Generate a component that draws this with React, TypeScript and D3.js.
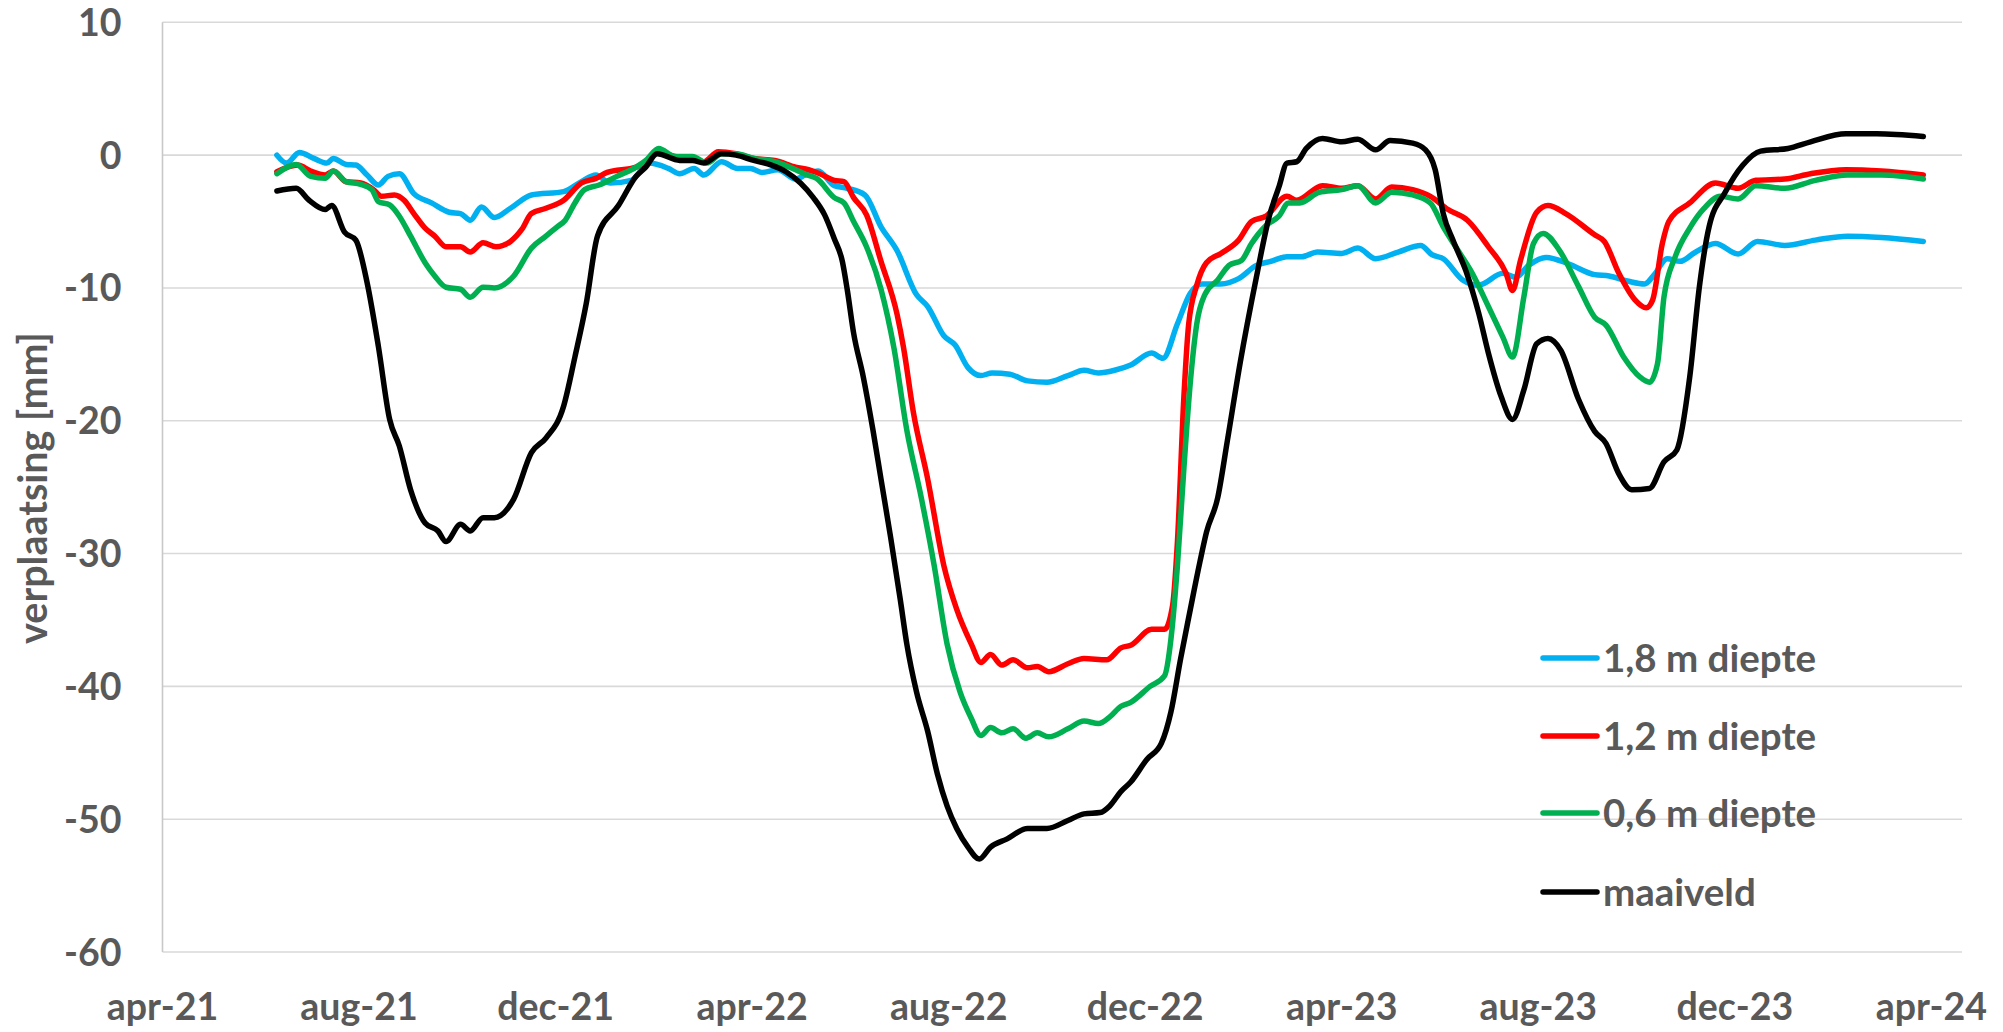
import React from "react";
import * as d3 from "d3";

// x values: days since 1 April 2021
const START_DATE = "2021-04-01";
const AXIS_MAX_DAY = 1117;
const tickDays = [0, 122, 244, 366, 488, 610, 732, 854, 976, 1098];
const tickLabels = ["apr-21", "aug-21", "dec-21", "apr-22", "aug-22", "dec-22", "apr-23", "aug-23", "dec-23", "apr-24"];
const yTicks = [10, 0, -10, -20, -30, -40, -50, -60];

const seriesNames = ["1,8 m diepte", "1,2 m diepte", "0,6 m diepte", "maaiveld"];
const seriesColors = ["#00B0F0", "#FF0000", "#00B050", "#000000"];

const depth18: [number, number][] = [
  [71, 0.0], [77, -0.6], [85, 0.2], [94, -0.25], [102, -0.6], [106, -0.25], [114, -0.7], [120, -0.75],
  [127, -1.5], [134, -2.25], [140, -1.6], [147, -1.4], [156, -2.9], [167, -3.6], [178, -4.3], [185, -4.4],
  [191, -4.9], [198, -3.9], [206, -4.7], [216, -4.0], [229, -3.0], [249, -2.75], [260, -2.0], [269, -1.5],
  [278, -2.1], [291, -1.9], [302, -0.6], [314, -1.0], [321, -1.4], [330, -1.0], [336, -1.5], [347, -0.5],
  [357, -1.0], [365, -1.0], [372, -1.3], [382, -1.1], [393, -1.8], [399, -1.5], [407, -1.2], [417, -2.3],
  [425, -2.5], [436, -3.0], [446, -5.4], [456, -7.2], [468, -10.5], [475, -11.4], [485, -13.6], [492, -14.3],
  [500, -16.0], [508, -16.6], [515, -16.4], [526, -16.5], [537, -17.0], [549, -17.1], [562, -16.6], [572, -16.2],
  [581, -16.4], [591, -16.2], [601, -15.8], [614, -14.9], [621, -15.3], [630, -12.7], [638, -10.4], [645, -9.7],
  [657, -9.7], [668, -9.3], [679, -8.3], [688, -8.0], [698, -7.65], [707, -7.65], [717, -7.3], [732, -7.4],
  [742, -7.0], [753, -7.8], [767, -7.3], [781, -6.8], [788, -7.5], [795, -7.8], [807, -9.4], [817, -9.8],
  [832, -8.9], [840, -9.2], [848, -8.3], [859, -7.7], [873, -8.2], [889, -9.0], [898, -9.1], [910, -9.5],
  [920, -9.7], [926, -9.0], [934, -7.8], [942, -8.0], [951, -7.35], [964, -6.65], [978, -7.45], [990, -6.5],
  [1007, -6.8], [1026, -6.4], [1046, -6.1], [1067, -6.2], [1093, -6.5],
];

const depth12: [number, number][] = [
  [71, -1.25], [84, -0.75], [92, -1.2], [101, -1.5], [106, -1.2], [114, -2.0], [123, -2.1], [131, -2.6],
  [136, -3.1], [144, -3.0], [150, -3.4], [156, -4.4], [163, -5.5], [169, -6.1], [176, -6.9], [185, -6.9],
  [191, -7.3], [199, -6.6], [207, -6.9], [216, -6.5], [223, -5.6], [229, -4.4], [238, -4.0], [249, -3.4],
  [260, -2.1], [269, -1.75], [276, -1.3], [294, -0.9], [300, -0.5], [307, 0.25], [318, -0.1], [329, -0.25],
  [336, -0.5], [345, 0.25], [356, 0.1], [367, -0.25], [380, -0.4], [393, -0.9], [401, -1.1], [408, -1.4],
  [417, -1.9], [423, -2.0], [429, -3.2], [437, -4.5], [446, -8.0], [456, -12.0], [460, -14.5], [466, -19.3],
  [475, -24.4], [485, -30.9], [493, -34.2], [502, -36.8], [508, -38.2], [514, -37.6], [521, -38.4], [528, -38.0],
  [537, -38.6], [543, -38.5], [550, -38.9], [562, -38.3], [572, -37.9], [586, -38.0], [595, -37.1], [601, -36.9],
  [614, -35.7], [622, -35.7], [627, -33.9], [630, -29.1], [634, -18.2], [637, -12.7], [642, -9.8], [648, -8.1],
  [657, -7.4], [668, -6.4], [676, -5.0], [685, -4.6], [698, -3.1], [704, -3.4], [720, -2.3], [732, -2.5],
  [742, -2.3], [753, -3.3], [763, -2.4], [776, -2.6], [787, -3.1], [798, -4.1], [810, -4.9], [823, -6.9],
  [834, -8.9], [838, -10.2], [843, -7.9], [853, -4.3], [860, -3.8], [871, -4.4], [889, -6.0], [895, -6.5],
  [904, -8.9], [914, -10.9], [921, -11.5], [925, -10.9], [931, -6.65], [935, -5.0], [948, -3.6], [964, -2.1],
  [978, -2.5], [989, -1.9], [1007, -1.8], [1023, -1.4], [1045, -1.1], [1067, -1.2], [1093, -1.5],
];

const depth06: [number, number][] = [
  [71, -1.4], [83, -0.7], [92, -1.6], [101, -1.75], [106, -1.2], [114, -2.0], [123, -2.2], [130, -2.6],
  [134, -3.5], [141, -3.75], [147, -4.6], [154, -6.1], [163, -8.1], [169, -9.1], [176, -9.95], [185, -10.1],
  [191, -10.7], [199, -9.95], [206, -10.0], [218, -9.1], [229, -7.0], [238, -6.1], [245, -5.4], [250, -4.9],
  [256, -3.6], [262, -2.6], [271, -2.25], [282, -1.6], [294, -0.9], [300, -0.4], [308, 0.5], [318, -0.1],
  [329, -0.1], [338, -0.6], [347, 0.1], [356, 0.1], [367, -0.25], [380, -0.5], [393, -1.1], [400, -1.5],
  [406, -1.75], [417, -3.2], [423, -3.6], [429, -5.0], [437, -6.9], [446, -10.1], [454, -14.5], [462, -20.7],
  [471, -25.8], [479, -30.9], [487, -36.8], [495, -40.4], [502, -42.4], [508, -43.7], [514, -43.1], [521, -43.5],
  [528, -43.2], [536, -43.9], [543, -43.5], [550, -43.8], [562, -43.2], [572, -42.6], [581, -42.8], [588, -42.3],
  [595, -41.5], [601, -41.2], [613, -40.0], [622, -39.2], [626, -36.4], [630, -30.9], [634, -23.6], [638, -17.1],
  [642, -12.7], [647, -10.5], [655, -9.4], [662, -8.3], [670, -7.9], [676, -6.65], [685, -5.3], [693, -4.6],
  [699, -3.6], [706, -3.6], [718, -2.8], [732, -2.6], [742, -2.3], [753, -3.6], [763, -2.8], [776, -3.0],
  [787, -3.6], [795, -5.4], [804, -7.15], [813, -8.9], [823, -11.4], [832, -13.7], [838, -15.2], [845, -10.7],
  [851, -6.65], [857, -5.9], [867, -7.15], [879, -9.9], [889, -12.2], [896, -12.8], [907, -15.2], [917, -16.7],
  [923, -17.1], [928, -15.7], [932, -10.7], [939, -7.65], [948, -5.5], [957, -4.0], [967, -3.1], [978, -3.3],
  [989, -2.3], [1007, -2.5], [1026, -1.9], [1046, -1.5], [1067, -1.5], [1093, -1.8],
];

const maaiveld: [number, number][] = [
  [71, -2.7], [83, -2.5], [91, -3.4], [101, -4.1], [105, -3.8], [113, -5.8], [120, -6.4], [127, -9.6],
  [134, -14.4], [141, -19.9], [147, -21.9], [154, -25.2], [163, -27.7], [171, -28.3], [176, -29.1], [185, -27.8],
  [191, -28.3], [199, -27.3], [206, -27.3], [218, -25.9], [229, -22.4], [238, -21.3], [249, -18.9], [256, -15.2],
  [263, -11.2], [270, -6.1], [283, -3.8], [294, -1.6], [300, -0.9], [307, 0.1], [321, -0.4], [329, -0.4],
  [336, -0.6], [347, 0.1], [356, 0.0], [367, -0.4], [378, -0.75], [387, -1.25], [396, -2.1], [404, -3.2],
  [411, -4.5], [417, -6.3], [422, -8.0], [425, -10.1], [429, -13.4], [435, -16.7], [441, -20.7], [446, -24.4],
  [452, -28.8], [458, -33.5], [462, -36.8], [468, -40.4], [475, -43.4], [481, -46.6], [487, -49.0], [493, -50.7],
  [500, -52.1], [507, -53.0], [514, -52.1], [524, -51.5], [537, -50.7], [549, -50.7], [562, -50.1], [572, -49.6],
  [582, -49.5], [588, -49.0], [595, -47.9], [601, -47.2], [611, -45.5], [620, -44.3], [626, -41.9], [632, -37.9],
  [638, -34.2], [644, -30.6], [648, -28.4], [655, -25.8], [661, -21.5], [669, -15.6], [679, -9.2], [687, -4.6],
  [693, -2.4], [698, -0.6], [704, -0.5], [710, 0.5], [720, 1.25], [732, 1.0], [742, 1.2], [753, 0.4],
  [762, 1.1], [776, 0.9], [784, 0.4], [790, -1.1], [795, -4.4], [801, -6.4], [809, -8.7], [817, -11.9],
  [823, -14.9], [831, -18.2], [838, -19.9], [845, -17.7], [853, -14.2], [860, -13.8], [868, -14.7], [879, -18.4],
  [889, -20.8], [896, -21.7], [904, -24.0], [912, -25.2], [923, -25.1], [932, -23.1], [940, -22.2], [948, -16.7],
  [954, -9.9], [960, -5.4], [970, -2.8], [981, -0.75], [992, 0.3], [1009, 0.5], [1023, 1.0], [1045, 1.6],
  [1064, 1.6], [1093, 1.4],
];

const allSeries = [depth18, depth12, depth06, maaiveld];

const W = 2003;
const H = 1032;
const FONT = "Lato, 'Open Sans', sans-serif";
const TEXT = "#595959";

export default function App() {
  const start = new Date(START_DATE + "T00:00:00");
  const dayToDate = (d: number) => d3.timeDay.offset(start, d);
  const x = d3.scaleTime().domain([start, dayToDate(AXIS_MAX_DAY)]).range([162.5, 1962]);
  const y = d3.scaleLinear().domain([-60, 10]).range([952, 22.3]);
  const line = d3
    .line<[number, number]>()
    .x((d) => x(dayToDate(d[0])))
    .y((d) => y(d[1]))
    .curve(d3.curveMonotoneX);

  const legendY = [658, 736, 813, 892];

  return (
    <svg
      width={W}
      height={H}
      style={{ position: "fixed", left: 0, top: 0, display: "block", background: "#fff" }}
    >
      <rect x={0} y={0} width={W} height={H} fill="#fff" />
      {yTicks.map((t) => (
        <line key={"g" + t} x1={x.range()[0]} x2={x.range()[1]} y1={y(t)} y2={y(t)} stroke="#D9D9D9" strokeWidth={1.6} />
      ))}
      <line x1={x.range()[0]} x2={x.range()[0]} y1={y(10)} y2={y(-60)} stroke="#C8C8C8" strokeWidth={1.6} />
      {yTicks.map((t) => (
        <text
          key={"yl" + t}
          x={121.5}
          y={y(t)}
          dy="0.36em"
          textAnchor="end"
          fontFamily={FONT}
          fontWeight={700}
          fontSize={37.5}
          fill={TEXT}
        >
          {t}
        </text>
      ))}
      {tickDays.map((d, i) => (
        <text
          key={"xl" + d}
          x={x(dayToDate(d))}
          y={1020}
          textAnchor="middle"
          fontFamily={FONT}
          fontWeight={700}
          fontSize={37.5}
          fill={TEXT}
        >
          {tickLabels[i]}
        </text>
      ))}
      <text
        transform={`translate(47,488) rotate(-90)`}
        textAnchor="middle"
        fontFamily={FONT}
        fontWeight={700}
        fontSize={39.5}
        fill={TEXT}
      >
        verplaatsing [mm]
      </text>
      {allSeries.map((s, i) => (
        <path
          key={"s" + i}
          d={line(s) || ""}
          fill="none"
          stroke={seriesColors[i]}
          strokeWidth={5.5}
          strokeLinejoin="round"
          strokeLinecap="round"
        />
      ))}
      {seriesNames.map((n, i) => (
        <g key={"lg" + i}>
          <line
            x1={1543}
            x2={1597}
            y1={legendY[i]}
            y2={legendY[i]}
            stroke={seriesColors[i]}
            strokeWidth={5.5}
            strokeLinecap="round"
          />
          <text
            x={1603}
            y={legendY[i]}
            dy="0.36em"
            fontFamily={FONT}
            fontWeight={700}
            fontSize={38.5}
            fill={TEXT}
          >
            {n}
          </text>
        </g>
      ))}
    </svg>
  );
}
